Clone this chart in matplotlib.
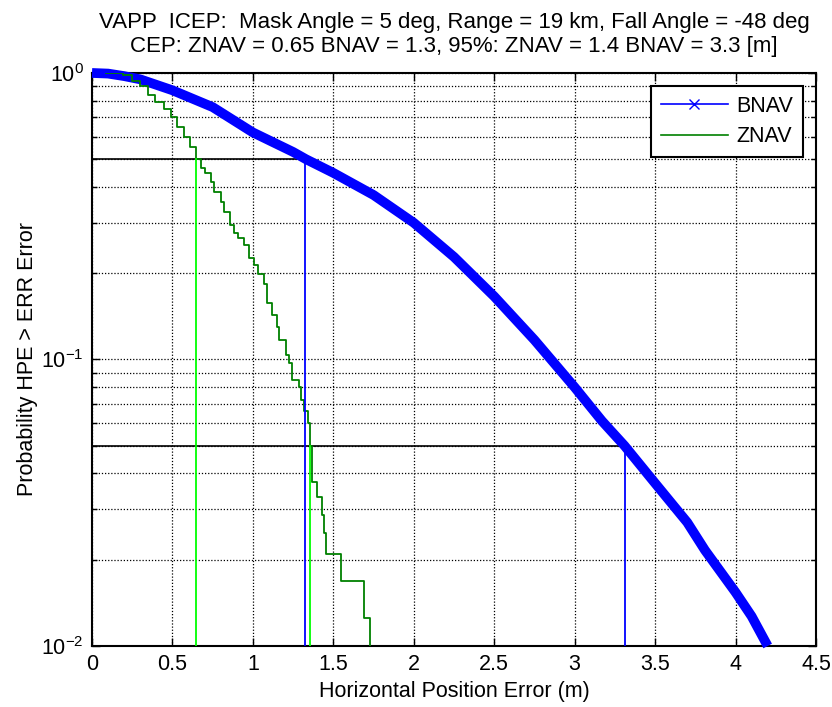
import numpy as np
import matplotlib
matplotlib.use("Agg")
import matplotlib.pyplot as plt
from matplotlib.lines import Line2D
from matplotlib.ticker import FixedLocator, LogLocator, FormatStrFormatter, NullFormatter

plt.rcParams['font.family'] = ['Liberation Sans', 'DejaVu Sans']
plt.rcParams['font.size'] = 15.5

# BNAV: probability HPE > error
bnav_x = [0.0, 0.1, 0.2, 0.3, 0.5, 0.75, 1.0, 1.25, 1.33, 1.5, 1.75, 2.0, 2.25,
          2.5, 2.75, 3.0, 3.17, 3.31, 3.5, 3.7, 3.81, 4.0, 4.1, 4.2]
bnav_p = [1.0, 0.995, 0.975, 0.95, 0.87, 0.76, 0.62, 0.53, 0.50, 0.448, 0.375, 0.30, 0.228,
          0.166, 0.117, 0.080, 0.061, 0.050, 0.037, 0.027, 0.0216, 0.0154, 0.0127, 0.010]

# ZNAV: stepped empirical curve
znav_x = [0.085, 0.19, 0.25, 0.30, 0.35, 0.39, 0.45, 0.49, 0.53, 0.57, 0.61, 0.645,
          0.68, 0.70, 0.74, 0.76, 0.80, 0.82, 0.86, 0.88, 0.91, 0.945, 0.975, 1.005,
          1.03, 1.07, 1.09, 1.12, 1.15, 1.16, 1.205, 1.225, 1.245, 1.285, 1.30, 1.32,
          1.34, 1.355, 1.37, 1.40, 1.43, 1.44, 1.455, 1.545, 1.69, 1.73]
znav_p = [1.0, 0.985, 0.94, 0.90, 0.84, 0.79, 0.75, 0.70, 0.65, 0.60, 0.55, 0.50,
          0.465, 0.446, 0.417, 0.385, 0.355, 0.328, 0.295, 0.276, 0.265, 0.251, 0.226, 0.214,
          0.199, 0.184, 0.157, 0.143, 0.130, 0.117, 0.104, 0.097, 0.085, 0.080, 0.072, 0.066,
          0.060, 0.050, 0.0375, 0.0332, 0.0287, 0.0248, 0.021, 0.0169, 0.0125, 0.010]

# CEP (50%) and 95% levels
levels = [0.5, 0.05]
bnav_at = [1.327, 3.316]
znav_at = [0.646, 1.357]

x_ticks = [0, 0.5, 1, 1.5, 2, 2.5, 3, 3.5, 4, 4.5]

fig = plt.figure(figsize=(8.32, 7.07), dpi=100)
ax = fig.add_axes([0.1106, 0.0863, 0.8701, 0.8105])

ax.set_yscale('log')
ax.set_xlim(0, 4.5)
ax.set_ylim(0.01, 1.0)

ax.plot(bnav_x, bnav_p, color='blue', lw=7, solid_capstyle='butt',
        solid_joinstyle='round', clip_on=False, zorder=3)
ax.plot(znav_x, znav_p, color=(0, 0.5, 0), lw=1.3, drawstyle='steps-post', zorder=4)

for lev, xb, xz in zip(levels, bnav_at, znav_at):
    ax.plot([0, xb], [lev, lev], color='k', lw=1.2, zorder=2)
    ax.plot([xb, xb], [0.01, lev], color='blue', lw=1.3, zorder=4)
    ax.plot([xz, xz], [0.01, lev], color=(0, 1, 0), lw=1.3, zorder=4)

ax.xaxis.set_major_locator(FixedLocator(x_ticks))
ax.xaxis.set_major_formatter(FormatStrFormatter('%g'))
ax.yaxis.set_major_locator(LogLocator(base=10, numticks=10))
ax.yaxis.set_minor_locator(LogLocator(base=10, subs=np.arange(2, 10), numticks=20))
ax.yaxis.set_minor_formatter(NullFormatter())

grid_style = dict(color='k', linestyle=(0, (1, 1.5)), linewidth=0.9)
ax.grid(True, which='major', **grid_style)
ax.grid(True, which='minor', axis='y', **grid_style)
ax.set_axisbelow(True)

ax.tick_params(which='both', direction='in', top=True, right=True, width=1.0)
ax.tick_params(which='major', length=6, pad=6)
ax.tick_params(which='minor', length=3.5)
for s in ax.spines.values():
    s.set_linewidth(1.5)

ax.set_xlabel('Horizontal Position Error (m)', labelpad=4)
ax.set_ylabel('Probability HPE > ERR Error', labelpad=2)
ax.set_title('VAPP  ICEP:  Mask Angle = 5 deg, Range = 19 km, Fall Angle = -48 deg\n'
             'CEP: ZNAV = 0.65 BNAV = 1.3, 95%: ZNAV = 1.4 BNAV = 3.3 [m]',
             fontsize=16, pad=15, linespacing=1.2)

handles = [Line2D([], [], color='blue', marker='x', markersize=7, lw=1.2),
           Line2D([], [], color=(0, 0.5, 0), lw=1.2)]
leg = ax.legend(handles, ['BNAV', 'ZNAV'], loc='upper right', fancybox=False,
                framealpha=1, edgecolor='k', handlelength=3.1, labelspacing=0.45,
                borderaxespad=0.6, handletextpad=0.4, borderpad=0.45)
leg.get_frame().set_linewidth(1.5)

fig.savefig('out.png', dpi=100)
